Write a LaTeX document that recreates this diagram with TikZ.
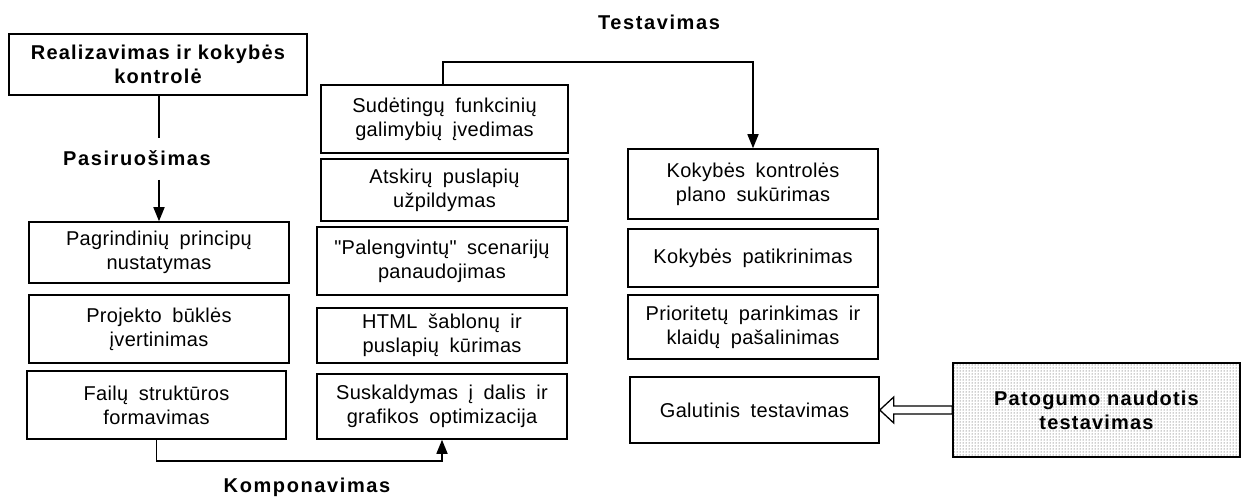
\documentclass[tikz,border=0pt]{standalone}
\usepackage{fontspec}
\setmainfont{Liberation Sans}
\newfontfamily\boxfont{Liberation Sans}[WordSpace=1.8,LetterSpace=1.5]
\usetikzlibrary{arrows.meta,patterns,calc}
\tikzset{
  box/.style={draw, line width=1.5pt, align=center, inner sep=0pt,
    font=\boxfont\fontsize{20}{24}\selectfont},
  bbox/.style={box, font=\rmfamily\bfseries\fontsize{20}{24}\selectfont\addfontfeatures{LetterSpace=6}},
  lbl/.style={font=\bfseries\fontsize{20}{24}\selectfont\addfontfeatures{LetterSpace=8}, inner sep=0pt},
  conn/.style={line width=1.5pt},
  arr/.style={line width=1.5pt, -{Triangle[length=14pt,width=11pt]}}
}
\begin{document}
\begin{tikzpicture}[x=1pt,y=-1pt]
\fill[white] (0,0) rectangle (1247,497);
\useasboundingbox (0,0) rectangle (1247,497);

% left column
\node[bbox, minimum width=298pt, minimum height=61pt] (real) at (158,64.5) {Realizavimas ir kokybės\\kontrolė};
\node[box, minimum width=260pt, minimum height=61pt] (p1) at (159,252.5) {Pagrindinių principų\\nustatymas};
\node[box, minimum width=260pt, minimum height=68pt] (p2) at (159,329) {Projekto būklės\\įvertinimas};
\node[box, minimum width=259pt, minimum height=68pt] (p3) at (156.5,405) {Failų struktūros\\formavimas};

% middle column
\node[box, minimum width=247pt, minimum height=68pt] (m1) at (444.5,119) {Sudėtingų funkcinių\\galimybių įvedimas};
\node[box, minimum width=247pt, minimum height=62pt] (m2) at (444.5,190) {Atskirų puslapių\\užpildymas};
\node[box, minimum width=250pt, minimum height=68pt] (m3) at (442,261) {"Palengvintų" scenarijų\\panaudojimas};
\node[box, minimum width=250pt, minimum height=55pt] (m4) at (442,335.5) {HTML šablonų ir\\puslapių kūrimas};
\node[box, minimum width=250pt, minimum height=65pt] (m5) at (442,406.5) {Suskaldymas į dalis ir\\grafikos optimizacija};

% right column
\node[box, minimum width=250pt, minimum height=70pt] (r1) at (753,184) {Kokybės kontrolės\\plano sukūrimas};
\node[box, minimum width=250pt, minimum height=58pt] (r2) at (753,258) {Kokybės patikrinimas};
\node[box, minimum width=250pt, minimum height=64pt] (r3) at (753,327) {Prioritetų parinkimas ir\\klaidų pašalinimas};
\node[box, minimum width=249pt, minimum height=66pt] (r4) at (754.5,410) {Galutinis testavimas};

\node[bbox, minimum width=287pt, minimum height=94pt, pattern=dots, pattern color=black!80] (pt) at (1096.5,410) {Patogumo naudotis\\testavimas};

% labels
\node[lbl] (pas) at (137,158) {Pasiruošimas};
\node[lbl] (kom) at (307,487) {Komponavimas};
\node[lbl] (tes) at (659,22) {Testavimas};

% connectors
\coordinate (a1) at (159,138);
\coordinate (a2) at (159,180);
\draw[conn] (real.south -| a1) -- (a1);
\draw[arr] (a2) -- (p1.north -| a2);

\draw[arr] (p3.south) -- ++(0,21) -| (m5.south);
\draw[arr] (m1.north -| 443,0) -- (443,62) -| (r1.north);

% hollow block arrow
\draw[line width=1.3pt, fill=white]
  (r4.east) -- ($(r4.east)+(14,-13)$) -- ($(r4.east)+(14,-4)$)
  -- ($(pt.west)+(0,-4)$) -- ($(pt.west)+(0,4)$)
  -- ($(r4.east)+(14,4)$) -- ($(r4.east)+(14,13)$) -- cycle;
\end{tikzpicture}
\end{document}
